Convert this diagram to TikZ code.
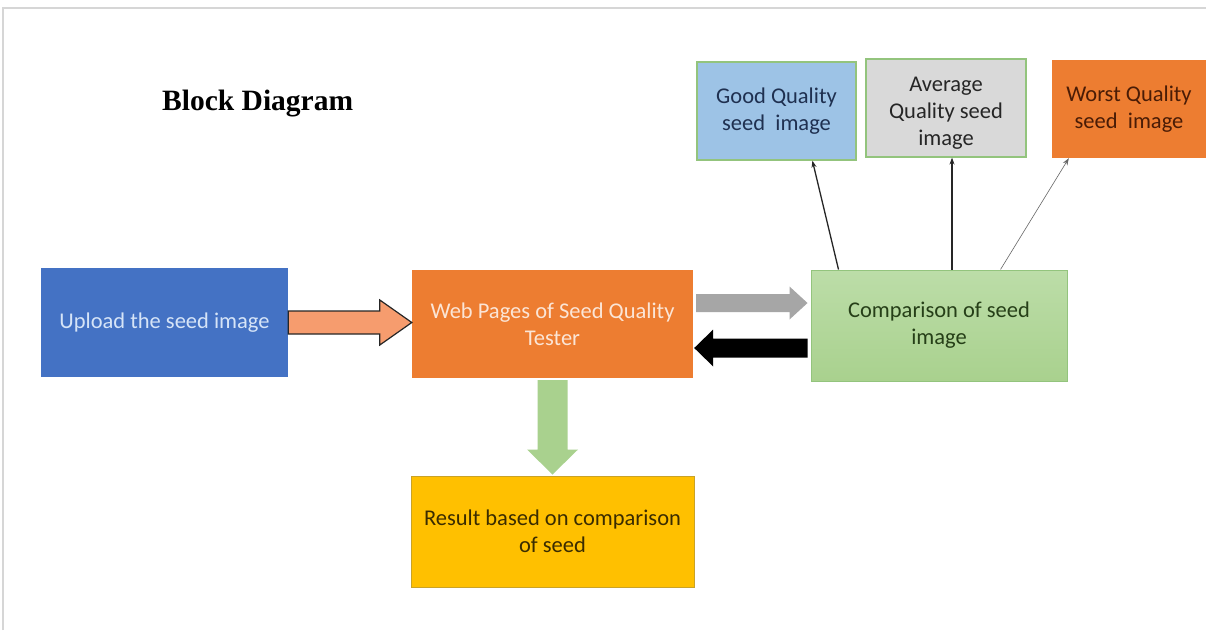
\documentclass[tikz,border=0pt]{standalone}
\usepackage{fontspec}
\setmainfont{Carlito}
\newfontfamily\titlefont{Liberation Serif}
\usetikzlibrary{calc,arrows.meta}
\definecolor{cblue}{HTML}{4472C4}
\definecolor{corange}{HTML}{ED7D31}
\definecolor{cgreen}{HTML}{A9D18E}
\definecolor{cgreenlight}{HTML}{BCDDA8}
\definecolor{cgreenborder}{HTML}{93C47D}
\definecolor{cyellow}{HTML}{FFC000}
\definecolor{cyellowborder}{HTML}{C9A227}
\definecolor{clightblue}{HTML}{9DC3E6}
\definecolor{cgray}{HTML}{D9D9D9}
\definecolor{csalmon}{HTML}{F69C6E}
\definecolor{cgrayarrow}{HTML}{A6A6A6}
\definecolor{cframe}{HTML}{D6D6D6}
\definecolor{tup}{HTML}{D6E4F7}
\definecolor{tweb}{HTML}{FBE5D6}
\definecolor{tcomp}{HTML}{263F18}
\definecolor{tres}{HTML}{3A2C00}
\definecolor{tgood}{HTML}{1F3050}
\definecolor{tavg}{HTML}{262626}
\definecolor{tworst}{HTML}{4A1C06}
\begin{document}
\begin{tikzpicture}[x=1pt,y=-1pt,
  box/.style={rectangle, inner sep=0pt, align=center,
    font=\fontsize{22.5}{27}\selectfont},
  thinarrow/.style={-{Stealth[length=7pt,width=5pt]}, line width=1.3pt, draw=black!85}
]
\useasboundingbox (0,0) rectangle (1206,630);
\fill[white] (0,0) rectangle (1206,630);
% frame
\draw[cframe, line width=1.5pt] (3,630) -- (3,8) -- (1206,8);

% title
\node[anchor=base west, inner sep=0pt, font=\titlefont\bfseries\fontsize{29.5}{33}\selectfont] (title) at (162,110) {Block Diagram};

% boxes
\node[box, fill=cblue, text=tup, minimum width=247pt, minimum height=109pt] (up) at (164.5,322.5) {Upload the seed image};
\node[box, fill=corange, text=tweb, minimum width=281pt, minimum height=108pt] (web) at (552.5,324) {Web Pages of Seed Quality\\Tester};
\node[box, top color=cgreenlight, bottom color=cgreen, draw=cgreenborder, line width=1pt, text=tcomp, minimum width=256pt, minimum height=111pt] (comp) at (939,325.5) {Comparison of seed\\image};
\node[box, fill=cyellow, draw=cyellowborder, line width=1pt, text=tres, minimum width=283pt, minimum height=111pt] (res) at (552.5,531.5) {Result based on comparison\\of seed};
\node[box, fill=clightblue, draw=cgreenborder, line width=1.2pt, text=tgood, minimum width=159pt, minimum height=98pt] (good) at (776.5,111) {Good Quality\\seed\ \ image};
\node[box, fill=cgray, draw=cgreenborder, line width=1.2pt, text=tavg, minimum width=160pt, minimum height=98pt] (avg) at (946,108) {\rule{0pt}{24pt}Average\\Quality seed\\image};
\node[box, fill=corange, text=tworst, minimum width=154pt, minimum height=98pt] (worst) at (1129,109) {Worst Quality\\seed\ \ image};

% block arrow: upload -> web
\coordinate (a1) at (up.east);
\coordinate (b1) at (web.west |- up.east);
\draw[fill=csalmon, draw=black!85, line width=1.2pt, line join=miter]
  ($(a1)+(0,-11.5)$) -- ($(b1)+(-32,-11.5)$) -- ($(b1)+(-32,-22.5)$) -- (b1)
  -- ($(b1)+(-32,22.5)$) -- ($(b1)+(-32,11.5)$) -- ($(a1)+(0,11.5)$) -- cycle;

% gray block arrow: web -> comp
\coordinate (a2) at ($(web.east)+(3,-21)$);
\coordinate (b2) at ($(comp.west |- a2)+(-3,0)$);
\fill[cgrayarrow]
  ($(a2)+(0,-9)$) -- ($(b2)+(-18,-9)$) -- ($(b2)+(-18,-16.5)$) -- (b2)
  -- ($(b2)+(-18,16.5)$) -- ($(b2)+(-18,9)$) -- ($(a2)+(0,9)$) -- cycle;

% black block arrow: comp -> web
\coordinate (a3) at ($(comp.west)+(-3,22.5)$);
\coordinate (b3) at ($(web.east |- a3)+(1,0)$);
\fill[black]
  ($(a3)+(0,-9.5)$) -- ($(b3)+(19,-9.5)$) -- ($(b3)+(19,-18.5)$) -- (b3)
  -- ($(b3)+(19,18.5)$) -- ($(b3)+(19,9.5)$) -- ($(a3)+(0,9.5)$) -- cycle;

% green block arrow: web -> result
\coordinate (a4) at ($(web.south)+(0,2)$);
\coordinate (b4) at ($(res.north)+(0,-1)$);
\fill[cgreen]
  ($(a4)+(-15,0)$) -- ($(b4)+(-15,-25)$) -- ($(b4)+(-25.5,-25)$) -- (b4)
  -- ($(b4)+(25.5,-25)$) -- ($(b4)+(15,-25)$) -- ($(a4)+(15,0)$) -- cycle;

% thin arrows from comparison to quality boxes
\draw[thinarrow] ([xshift=28pt]comp.north west) -- ([xshift=116pt]good.south west);
\draw[thinarrow] ([xshift=13pt]comp.north) -- ([xshift=6pt]avg.south);
\draw[thinarrow, line width=0.6pt, draw=black!60] ([xshift=190pt]comp.north west) -- ([xshift=17pt]worst.south west);
\end{tikzpicture}
\end{document}
